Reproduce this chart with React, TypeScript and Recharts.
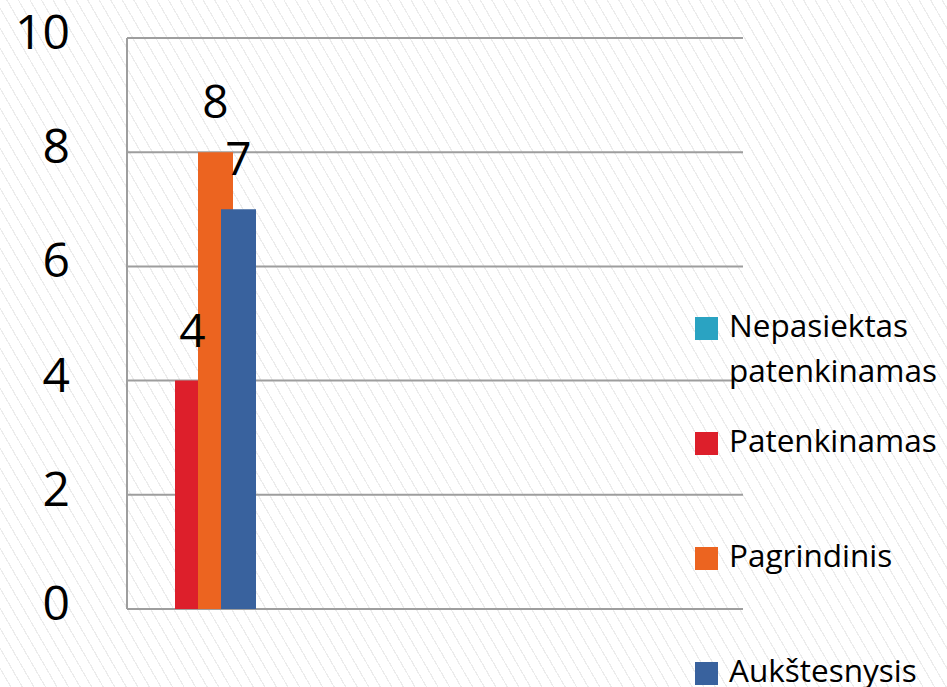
import React from 'react';
import { BarChart, Bar, XAxis, YAxis, CartesianGrid, LabelList } from 'recharts';

// one filled group, the other three slots stay empty (that's how the source chart lays out)
const categories = ['1', '2', '3', '4'];
const nepasiektas = [0, null, null, null];
const patenkinamas = [4, null, null, null];
const pagrindinis = [8, null, null, null];
const aukstesnysis = [7, null, null, null];
const yTicks = [0, 2, 4, 6, 8, 10];

const series = [
  { key: 'nepasiektas', name: 'Nepasiektas patenkinamas', color: '#2aa3c2', values: nepasiektas },
  { key: 'patenkinamas', name: 'Patenkinamas', color: '#dd1f2b', values: patenkinamas },
  { key: 'pagrindinis', name: 'Pagrindinis', color: '#ec6420', values: pagrindinis },
  { key: 'aukstesnysis', name: 'Aukštesnysis', color: '#39629e', values: aukstesnysis },
];

const data = categories.map((c, i) => {
  const row: Record<string, string | number | null> = { category: c };
  series.forEach((s) => {
    row[s.key] = s.values[i];
  });
  return row;
});

const font = '"Open Sans", "DejaVu Sans", sans-serif';

function LegendBox() {
  return (
    <div
      style={{
        position: 'absolute',
        left: 695,
        top: 317,
        width: 252,
        fontFamily: font,
        fontSize: 31.5,
        color: '#000',
      }}
    >
      {series.map((s) => (
        <div key={s.key} style={{ display: 'flex', alignItems: 'flex-start', height: 115 }}>
          <div style={{ width: 23, height: 23, background: s.color, flex: 'none', marginRight: 11 }} />
          <div style={{ lineHeight: '45px', marginTop: -15, width: 218 }}>{s.name}</div>
        </div>
      ))}
    </div>
  );
}

export default function App() {
  return (
    <div
      style={{
        position: 'absolute',
        left: 0,
        top: 0,
        width: 947,
        height: 687,
        overflow: 'hidden',
        background:
          'repeating-linear-gradient(60deg, #ffffff 0px, #ffffff 8.8px, #ececec 8.8px, #ececec 10px)',
      }}
    >
      <BarChart
        width={947}
        height={687}
        data={data}
        margin={{ top: 38, right: 204, bottom: 78, left: 0 }}
        barSize={35}
        barGap={-12}
      >
        <CartesianGrid vertical={false} stroke="#9e9e9e" strokeWidth={2} />
        <XAxis dataKey="category" hide />
        <YAxis
          width={127}
          domain={[0, 10]}
          ticks={yTicks}
          interval={0}
          tickLine={false}
          tickSize={0}
          tickMargin={57}
          axisLine={{ stroke: '#9e9e9e', strokeWidth: 2 }}
          tick={{ fill: '#000', fontSize: 48, fontFamily: font, dy: -6 }}
        />
        {series.map((s) => (
          <Bar key={s.key} dataKey={s.key} name={s.name} fill={s.color} isAnimationActive={false}>
            {s.key !== 'nepasiektas' && (
              <LabelList
                dataKey={s.key}
                position="top"
                offset={34}
                fill="#000"
                fontSize={46}
                fontFamily={font}
              />
            )}
          </Bar>
        ))}
      </BarChart>
      <LegendBox />
    </div>
  );
}
